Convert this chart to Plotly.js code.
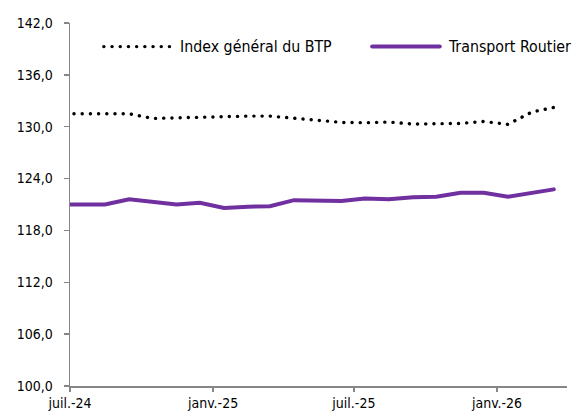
<!DOCTYPE html>
<html><head><meta charset="utf-8">
<script src="https://cdn.plot.ly/plotly-3.0.1.min.js"></script>
<style>
html,body{margin:0;padding:0;background:#fff;}
#chart{width:577px;height:414px;}
.scatterlayer .js-line, .shapelayer path{stroke-linecap:round;}
</style></head><body><div id="chart"></div>
<script>
// Monthly observations (mid-month), juin-24 .. mars-26
const months = ['2024-06-15','2024-07-15','2024-08-15','2024-09-15','2024-10-15','2024-11-15','2024-12-15',
  '2025-01-15','2025-02-15','2025-03-15','2025-04-15','2025-05-15','2025-06-15',
  '2025-07-15','2025-08-15','2025-09-15','2025-10-15','2025-11-15','2025-12-15',
  '2026-01-15','2026-02-15','2026-03-15'];
const indexBTP = [131.5,131.5,131.55,131.5,130.96,131.04,131.15,131.19,131.23,131.23,131.0,130.77,130.5,
  130.46,130.54,130.31,130.35,130.38,130.61,130.27,131.7,132.23];
const transportRoutier = [121.0,121.0,121.0,121.6,121.3,121.0,121.2,120.6,120.75,120.8,121.5,121.5,121.4,
  121.7,121.6,121.85,121.9,122.35,122.35,121.9,122.4,122.75];
const seriesNames = ['Index général du BTP','Transport Routier'];
const tickDates = ['2024-07-01','2025-01-01','2025-07-01','2026-01-01'];
const tickLabels = ['juil.-24','janv.-25','juil.-25','janv.-26'];
const yTicks = [100,106,112,118,124,130,136,142];

const FONT = "Tahoma, 'DejaVu Sans Condensed', 'DejaVu Sans', sans-serif";
const AXIS = '#868686';
const FS_TICK = 14;
const FS_LEG = 15.8;

const traces = [
  {x: months, y: indexBTP, name: seriesNames[0], type: 'scatter', mode: 'lines',
   line: {color: '#000000', width: 3.4, dash: '0.1px,8.1px'}, showlegend: false},
  {x: months, y: transportRoutier, name: seriesNames[1], type: 'scatter', mode: 'lines',
   line: {color: '#7030A0', width: 4}, showlegend: false}
];

const legY = 0.935;
const layout = {
  width: 577, height: 414,
  margin: {l: 70, r: 10, t: 23, b: 28},
  paper_bgcolor: '#fff', plot_bgcolor: '#fff',
  separators: ', ',
  font: {family: FONT, size: FS_TICK, color: '#000'},
  showlegend: false,
  xaxis: {type: 'date', range: ['2024-07-01','2026-04-01'], showgrid: false, zeroline: false,
    showline: true, linecolor: AXIS, linewidth: 1.5,
    tickmode: 'array', tickvals: tickDates, ticktext: tickLabels,
    ticks: 'outside', ticklen: 4, tickcolor: AXIS, tickwidth: 1.5, ticklabelstandoff: 0,
    tickfont: {family: FONT, size: FS_TICK, color: '#000'}},
  yaxis: {range: [100,142], showgrid: false, zeroline: false,
    showline: true, linecolor: AXIS, linewidth: 1.5,
    tickmode: 'array', tickvals: yTicks, tickformat: '.1f',
    ticks: 'outside', ticklen: 5, tickcolor: AXIS, tickwidth: 1.5, ticklabelstandoff: 8,
    tickfont: {family: FONT, size: FS_TICK, color: '#000'}},
  shapes: [
    {type: 'line', xref: 'paper', yref: 'paper', x0: 0.068, x1: 0.21, y0: legY, y1: legY,
     line: {color: '#000', width: 3.4, dash: '0.1px,8.1px'}},
    {type: 'line', xref: 'paper', yref: 'paper', x0: 0.608, x1: 0.744, y0: legY, y1: legY,
     line: {color: '#7030A0', width: 4}}
  ],
  annotations: [
    {xref: 'paper', yref: 'paper', x: 0.217, y: legY, xanchor: 'left', yanchor: 'middle',
     text: seriesNames[0], showarrow: false, font: {family: FONT, size: FS_LEG, color: '#000'}},
    {xref: 'paper', yref: 'paper', x: 0.757, y: legY, xanchor: 'left', yanchor: 'middle',
     text: seriesNames[1], showarrow: false, font: {family: FONT, size: FS_LEG, color: '#000'}}
  ]
};
Plotly.newPlot('chart', traces, layout, {staticPlot: true, displayModeBar: false});
</script></body></html>
